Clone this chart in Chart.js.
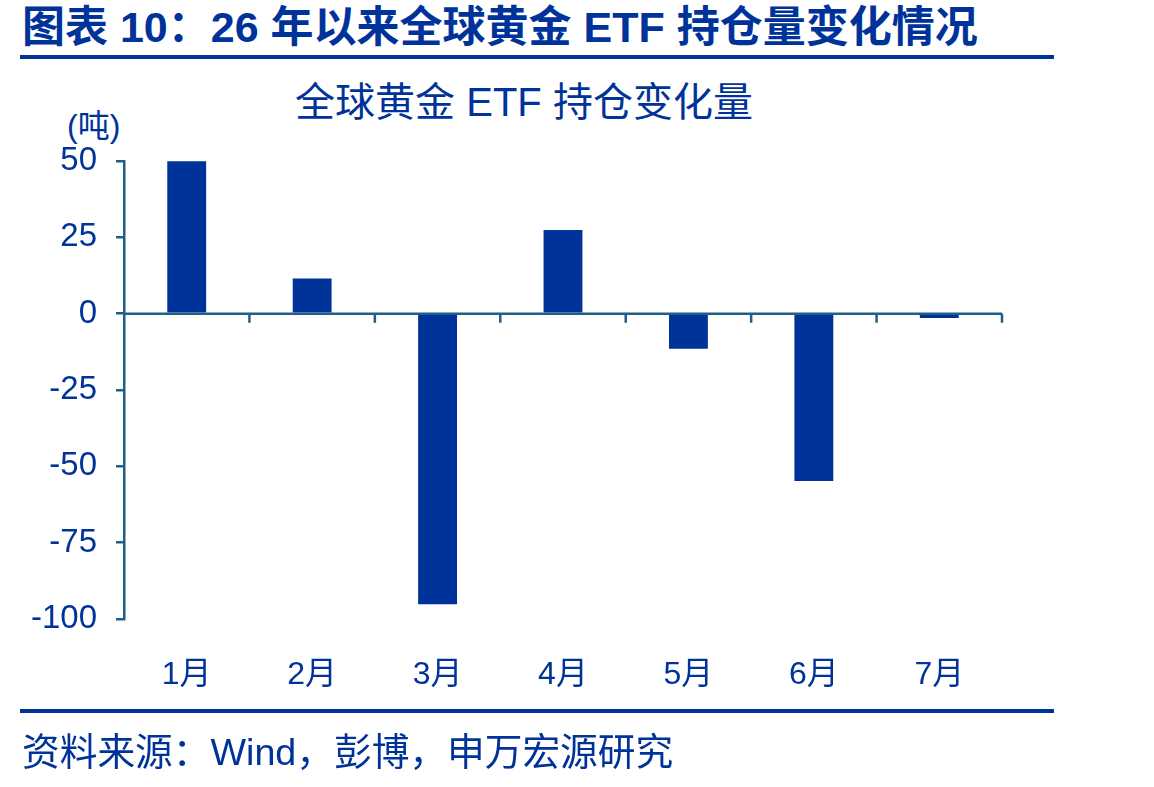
<!DOCTYPE html>
<html>
<head>
<meta charset="utf-8">
<script src="https://cdn.jsdelivr.net/npm/chart.js@4"></script>
<style>
  html, body { margin: 0; padding: 0; background: #fff; }
  body { width: 1154px; height: 787px; position: relative; overflow: hidden;
         font-family: "Liberation Sans", "Noto Sans CJK SC", sans-serif; color: #003399; }
  .title { position: absolute; left: 22px; top: -1px; font-size: 43px; line-height: 56px; font-weight: bold; white-space: nowrap; }
  .rule { position: absolute; left: 20px; width: 1034px; height: 4px; background: #003399; }
  .subtitle { position: absolute; left: 0; width: 1048px; top: 77px; text-align: center; font-size: 40px; line-height: 50px; white-space: nowrap; }
  .unit { position: absolute; left: 67px; top: 106px; font-size: 32px; line-height: 40px; white-space: nowrap; }
  .source { position: absolute; left: 22px; top: 728px; font-size: 37.7px; line-height: 48px; white-space: nowrap; }
  #wrap { position: absolute; left: 0; top: 0; width: 1154px; height: 787px; }
</style>
</head>
<body>
<div class="title">图表 10：26 年以来全球黄金 ETF 持仓量变化情况</div>
<div class="rule" style="top:55px"></div>
<div class="subtitle">全球黄金 ETF 持仓变化量</div>
<div class="unit">(吨)</div>
<div id="wrap"><canvas id="c"></canvas></div>
<div class="rule" style="top:709px"></div>
<div class="source">资料来源：Wind，彭博，申万宏源研究</div>

<script>
const months = ["1月", "2月", "3月", "4月", "5月", "6月", "7月"]
const etfChange = [49.9, 11.5, -95.2, 27.4, -11.5, -54.8, -1.4]
const yTicks = [50, 25, 0, -25, -50, -75, -100]

const axisColor = "#1d5f86"
const textColor = "#003399"

// zero line with downward ticks between months
const zeroAxis = {
  id: "zeroAxis",
  afterDatasetsDraw(chart) {
    const { ctx, chartArea, scales } = chart
    const y0 = scales.y.getPixelForValue(0)
    ctx.save()
    ctx.strokeStyle = axisColor
    ctx.lineWidth = 2.5
    ctx.beginPath()
    ctx.moveTo(chartArea.left, y0)
    ctx.lineTo(chartArea.right, y0)
    for (let i = 1; i <= months.length; i++) {
      const x = scales.x.getPixelForValue(i - 0.5)
      ctx.moveTo(x, y0)
      ctx.lineTo(x, y0 + 9)
    }
    ctx.stroke()
    ctx.restore()
  }
}

new Chart(document.getElementById("c"), {
  type: "bar",
  data: {
    labels: months,
    datasets: [{
      data: etfChange,
      backgroundColor: "#003399",
      borderWidth: 0,
      categoryPercentage: 1,
      barPercentage: 0.31
    }]
  },
  options: {
    responsive: true,
    maintainAspectRatio: false,
    animation: false,
    layout: { padding: { top: 161, right: 152, bottom: 78, left: 0 } },
    plugins: {
      legend: { display: false },
      tooltip: { enabled: false }
    },
    scales: {
      x: {
        grid: { display: false },
        border: { display: false },
        ticks: {
          color: textColor,
          padding: 29,
          font: { family: "Liberation Sans, Noto Sans CJK SC", size: 32 }
        },
        afterFit: (s) => { s.height = 90 }
      },
      y: {
        min: -100,
        max: 50,
        afterBuildTicks: (s) => { s.ticks = yTicks.map(v => ({ value: v })) },
        grid: { drawOnChartArea: false, drawTicks: true, tickLength: 8, color: axisColor, lineWidth: 2.5 },
        border: { display: true, color: axisColor, width: 2.5 },
        ticks: {
          color: textColor,
          padding: 19,
          font: { family: "Liberation Sans", size: 33 }
        },
        afterFit: (s) => { s.width = 124 }
      }
    }
  },
  plugins: [zeroAxis]
})
</script>
</body>
</html>
